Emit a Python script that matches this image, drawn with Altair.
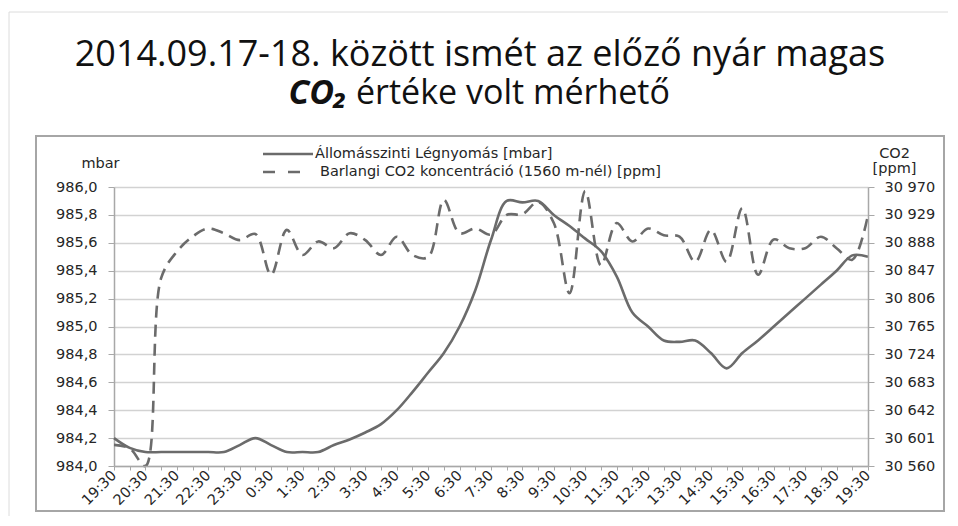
import json
import altair as alt
import pandas as pd

# ---- texts ----
title_line1 = "2014.09.17-18. között ismét az előző nyár magas"
title_co2 = "CO₂"
title_line2 = "értéke volt mérhető"
series_names = ["Állomásszinti Légnyomás [mbar]",
                "Barlangi CO2 koncentráció (1560 m-nél) [ppm]"]
left_title = "mbar"
right_title = ["CO2", "[ppm]"]

# ---- tick values / labels ----
pressure_ticks = [984.0, 984.2, 984.4, 984.6, 984.8, 985.0, 985.2, 985.4, 985.6, 985.8, 986.0]
co2_ticks = [30560, 30601, 30642, 30683, 30724, 30765, 30806, 30847, 30888, 30929, 30970]
hour_labels = ["19:30", "20:30", "21:30", "22:30", "23:30", "0:30", "1:30", "2:30", "3:30",
               "4:30", "5:30", "6:30", "7:30", "8:30", "9:30", "10:30", "11:30", "12:30",
               "13:30", "14:30", "15:30", "16:30", "17:30", "18:30", "19:30"]

# ---- data: one value every half hour (slot 0 = 19:30 ... slot 48 = next day 19:30) ----
slots = list(range(49))
pressure = [984.20, 984.13, 984.10, 984.10, 984.10, 984.10, 984.10, 984.10, 984.15, 984.20,
            984.15, 984.10, 984.10, 984.10, 984.15, 984.19, 984.24, 984.30, 984.40, 984.53,
            984.67, 984.81, 985.00, 985.26, 985.62, 985.90, 985.89, 985.90, 985.80, 985.72,
            985.63, 985.54, 985.36, 985.10, 985.00, 984.90, 984.89, 984.90, 984.81, 984.70,
            984.81, 984.90, 985.00, 985.10, 985.20, 985.30, 985.40, 985.51, 985.50]
co2 = [30591, 30586, 30560, 30836, 30875, 30897, 30909, 30902, 30892, 30901,
       30841, 30907, 30870, 30890, 30880, 30902, 30892, 30870, 30897, 30870,
       30867, 30951, 30902, 30909, 30900, 30929, 30930, 30948, 30917, 30814,
       30964, 30855, 30917, 30890, 30909, 30899, 30897, 30860, 30907, 30860,
       30939, 30841, 30893, 30880, 30880, 30897, 30880, 30863, 30929]

df_p = pd.DataFrame({"slot": slots, "pressure": pressure})
df_c = pd.DataFrame({"slot": slots, "co2": co2})
one = pd.DataFrame({"a": [0]})

W, H = 754, 279
LINE = "#6b6b6b"
AXC = "#a8a8a8"
FONT = "DejaVu Sans"
TFONT = "Open Sans"
FS = 14.5
TXT = "#262626"
DASH = [12, 7]

x_label_expr = ("datum.value % 2 == 0 ? " + json.dumps(hour_labels, ensure_ascii=False)
                + "[datum.value / 2] : ''")

x_enc = alt.X(
    "slot:Q", title=None, scale=alt.Scale(domain=[0, 48], nice=False, zero=False),
    axis=alt.Axis(
        values=slots, labelExpr=x_label_expr,
        labelAngle=-45, labelAlign="right", labelBaseline="middle",
        labelOverlap=False, grid=False, tickSize=4, labelPadding=3,
        domainColor=AXC, tickColor=AXC, domainWidth=1.5, zindex=1,
    ),
)

p_line = alt.Chart(df_p).mark_line(
    interpolate="catmull-rom", stroke=LINE, strokeWidth=2.6
).encode(
    x=x_enc,
    y=alt.Y("pressure:Q", title=left_title,
            scale=alt.Scale(domain=[984, 986], nice=False, zero=False),
            axis=alt.Axis(orient="left", values=pressure_ticks,
                          labelExpr="replace(format(datum.value, '.1f'), '.', ',')",
                          grid=True, gridColor="#d2d2d2", gridWidth=1.5,
                          domainColor=AXC, domainWidth=1.5, tickColor=AXC, tickSize=6,
                          labelPadding=11, titleAngle=0, titleX=-14, titleY=-24,
                          titleAlign="center", titleBaseline="middle", zindex=0)),
)

c_line = alt.Chart(df_c).mark_line(
    interpolate="catmull-rom", stroke=LINE, strokeWidth=2.6, strokeDash=DASH
).encode(
    x=x_enc,
    y=alt.Y("co2:Q", title=right_title,
            scale=alt.Scale(domain=[30560, 30970], nice=False, zero=False),
            axis=alt.Axis(orient="right", values=co2_ticks,
                          labelExpr="replace(format(datum.value, ','), ',', ' ')",
                          grid=False, domainColor=AXC, domainWidth=1.5, tickColor=AXC,
                          tickSize=6, labelPadding=10, titleAngle=0, titleX=26,
                          titleY=-27, titleAlign="center", titleBaseline="bottom",
                          titleLineHeight=15, zindex=1)),
)

# ---- legend (drawn as marks: sample line + label) ----
leg_solid = alt.Chart(one).mark_rule(stroke=LINE, strokeWidth=2.6).encode(
    x=alt.value(149), x2=alt.value(199), y=alt.value(-33))
leg_dash = alt.Chart(one).mark_rule(stroke=LINE, strokeWidth=2.6, strokeDash=[12, 13]).encode(
    x=alt.value(149), x2=alt.value(187), y=alt.value(-15))
leg_t1 = alt.Chart(pd.DataFrame({"t": [series_names[0]]})).mark_text(
    font=FONT, fontSize=FS, color=TXT, align="left", baseline="middle"
).encode(text="t:N", x=alt.value(201), y=alt.value(-33))
leg_t2 = alt.Chart(pd.DataFrame({"t": [series_names[1]]})).mark_text(
    font=FONT, fontSize=FS, color=TXT, align="left", baseline="middle"
).encode(text="t:N", x=alt.value(206), y=alt.value(-15))

# ---- slide border (top & left) and chart frame ----
slide_top = alt.Chart(one).mark_rule(stroke="#dcdcdc", strokeWidth=1).encode(
    x=alt.value(-105), x2=alt.value(840), y=alt.value(-175))
slide_left = alt.Chart(one).mark_rule(stroke="#dcdcdc", strokeWidth=1).encode(
    x=alt.value(-105), y=alt.value(-175), y2=alt.value(340))
frame = alt.Chart(one).mark_rect(fill="white", fillOpacity=0, stroke="#a6a6a6",
                                 strokeWidth=2).encode(
    x=alt.value(-78), x2=alt.value(830), y=alt.value(-51), y2=alt.value(324))

t1 = alt.Chart(pd.DataFrame({"t": [title_line1]})).mark_text(
    font=TFONT, fontSize=36, color="#111111", align="center", baseline="alphabetic"
).encode(text="t:N", x=alt.value(366), y=alt.value(-121))
t2a = alt.Chart(pd.DataFrame({"t": [title_co2]})).mark_text(
    font=TFONT, fontSize=34, fontWeight="bold", fontStyle="italic", color="#111111",
    align="right", baseline="alphabetic"
).encode(text="t:N", x=alt.value(233), y=alt.value(-83))
t2b = alt.Chart(pd.DataFrame({"t": [title_line2]})).mark_text(
    font=TFONT, fontSize=34, color="#111111", align="left", baseline="alphabetic"
).encode(text="t:N", x=alt.value(242), y=alt.value(-83))

chart = alt.layer(
    slide_top, slide_left, frame, p_line, c_line,
    leg_solid, leg_dash, leg_t1, leg_t2, t1, t2a, t2b
).resolve_scale(
    y="independent"
).properties(
    width=W, height=H,
    autosize=alt.AutoSizeParams(type="none"),
    padding={"left": 106, "top": 179, "right": 80, "bottom": 50},
    background="white",
).configure_view(stroke=None).configure_axis(
    labelFont=FONT, labelFontSize=FS, labelColor=TXT,
    titleFont=FONT, titleFontSize=FS, titleColor=TXT, titleFontWeight="normal",
)

chart.save("out.html", embed_options={"renderer": "svg", "actions": False})
